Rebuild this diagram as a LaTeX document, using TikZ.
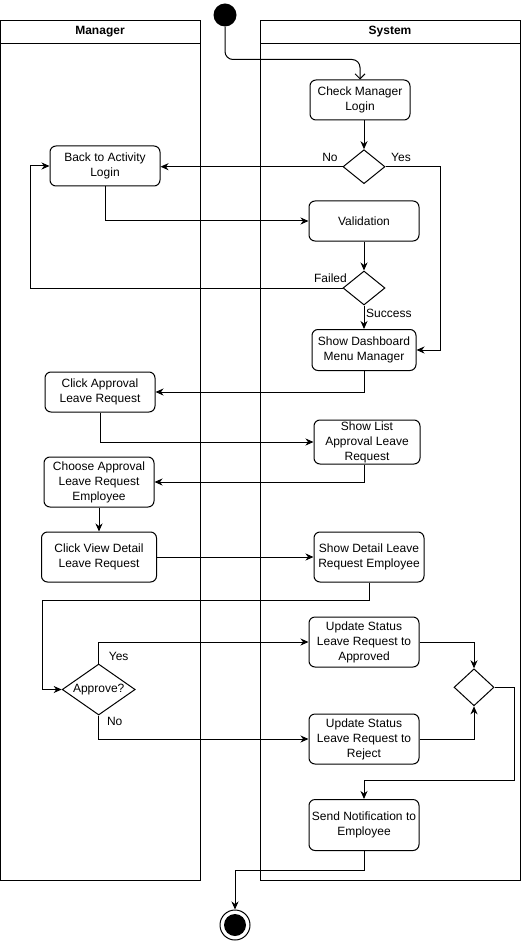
\documentclass[tikz,border=0pt]{standalone}
\usepackage{fontspec}
\setmainfont{Liberation Sans}
\usetikzlibrary{shapes.geometric,arrows.meta}
\begin{document}
\begin{tikzpicture}[x=1pt,y=-1pt,
  txt/.style={font=\fontsize{12}{15}\selectfont},
  lanehead/.style={draw,line width=1pt,inner sep=0pt,font=\fontsize{12}{15}\selectfont\bfseries},
  lanebody/.style={draw,line width=1pt,inner sep=0pt},
  act/.style={draw,line width=1pt,rounded corners=6pt,align=center,inner sep=0pt,txt},
  dec/.style={draw,line width=1pt,diamond,inner sep=0pt,txt},
  flow/.style={line width=1pt,-{Stealth[length=8pt,width=7pt,inset=2.5pt]}},
  startflow/.style={line width=1pt,rounded corners=8pt,-{Straight Barb[length=5pt,width=10pt]}},
  lbl/.style={txt,inner sep=0pt}]
\useasboundingbox (0,0) rectangle (523,941);

% swimlanes
\node[lanehead,minimum width=200,minimum height=23] (mgrhead) at (100,32) {Manager};
\node[lanebody,minimum width=200,minimum height=836.5] (mgrlane) at (100,461.75) {};
\node[lanehead,minimum width=260,minimum height=23] (syshead) at (390,32) {System};
\node[lanebody,minimum width=260,minimum height=836.5] (syslane) at (390,461.75) {};

% start / end
\node[circle,fill=black,minimum size=23,inner sep=0pt] (start) at (225,15) {};
\node[circle,draw,line width=1pt,minimum size=30,inner sep=0pt] (endc) at (235,925) {};
\node[circle,fill=black,minimum size=22,inner sep=0pt] (enddot) at (endc.center) {};

% activities
\node[act,minimum width=100,minimum height=40] (chk) at (360,100) {Check Manager\\Login};
\node[act,minimum width=110,minimum height=40] (back) at (105,166) {Back to Activity\\Login};
\node[act,minimum width=110,minimum height=40] (val) at (364,221) {Validation};
\node[act,minimum width=104,minimum height=41] (dash) at (364,350) {Show Dashboard\\Menu Manager};
\node[act,minimum width=110,minimum height=40] (capp) at (100,392) {Click Approval\\Leave Request};
\node[act,minimum width=106,minimum height=44] (list) at (367,442) {Show List\\Approval Leave\\Request};
\node[act,minimum width=110,minimum height=50] (choose) at (99,482) {Choose Approval\\Leave Request\\Employee};
\node[act,minimum width=115,minimum height=50] (view) at (99,557) {Click View Detail\\Leave Request};
\node[act,minimum width=110,minimum height=50] (detail) at (369,557) {Show Detail Leave\\Request Employee};
\node[act,minimum width=110,minimum height=50] (appr) at (364,642) {Update Status\\Leave Request to\\Approved};
\node[act,minimum width=110,minimum height=50] (rej) at (364,739) {Update Status\\Leave Request to\\Reject};
\node[act,minimum width=110,minimum height=51] (send) at (364,825) {Send Notification to\\Employee};

% decisions
\node[dec,minimum width=42,minimum height=34] (d1) at (364,166.7) {};
\node[dec,minimum width=42,minimum height=34] (d2) at (364,288) {};
\node[dec,minimum width=73,minimum height=51,label={[txt]center:Approve?}] (ap) at (98.7,689.5) {};
\node[dec,minimum width=40,minimum height=37] (mg) at (474,687.3) {};

% bend points
\coordinate (yesR) at (440,350);
\coordinate (failL) at (30.7,288);
\coordinate (detL) at (42.3,600);
\coordinate (mgR) at (514.3,780.7);
\coordinate (endT) at (235,870);

% connectors
\draw[startflow] (start.south) |- ([yshift=20pt]chk.north) -- (chk.north);
\draw[flow] (d1.north |- chk.south) -- (d1.north);
\draw[flow] (d1.west) -- (back.east |- d1.west);
\draw[flow] (d1.east) -| (yesR) -- (dash.east);
\draw[flow] (back.south) |- (val.west);
\draw[flow] (val.south) -- (d2.north);
\draw[flow] (d2.west) -- (failL) |- (back.west);
\draw[flow] (d2.south) -- (dash.north);
\draw[flow] (dash.south) |- (capp.east);
\draw[flow] (capp.south) |- (list.west);
\draw[flow] (list.south -| dash.south) |- (choose.east);
\draw[flow] (choose.south) -- (view.north);
\draw[flow] (view.east) -- (detail.west);
\draw[flow] (detail.south) |- (detL) |- (ap.west);
\draw[flow] (ap.north) |- (appr.west);
\draw[flow] (ap.south) |- (rej.west);
\draw[flow] (appr.east) -| (mg.north);
\draw[flow] (rej.east) -| (mg.south);
\draw[flow] (mg.east) -| (mgR) -| (send.north);
\draw[flow] (send.south) |- (endT) -- (endc.north);

% guard labels
\node[lbl] (lno1) at (330,157) {No};
\node[lbl] (lyes1) at (401,157) {Yes};
\node[lbl,anchor=east] (lfail) at (347,278) {Failed};
\node[lbl,anchor=west] (lsucc) at (366,313) {Success};
\node[lbl] (lyes2) at (118.7,656.7) {Yes};
\node[lbl] (lno2) at (114.7,721.7) {No};
\end{tikzpicture}
\end{document}
